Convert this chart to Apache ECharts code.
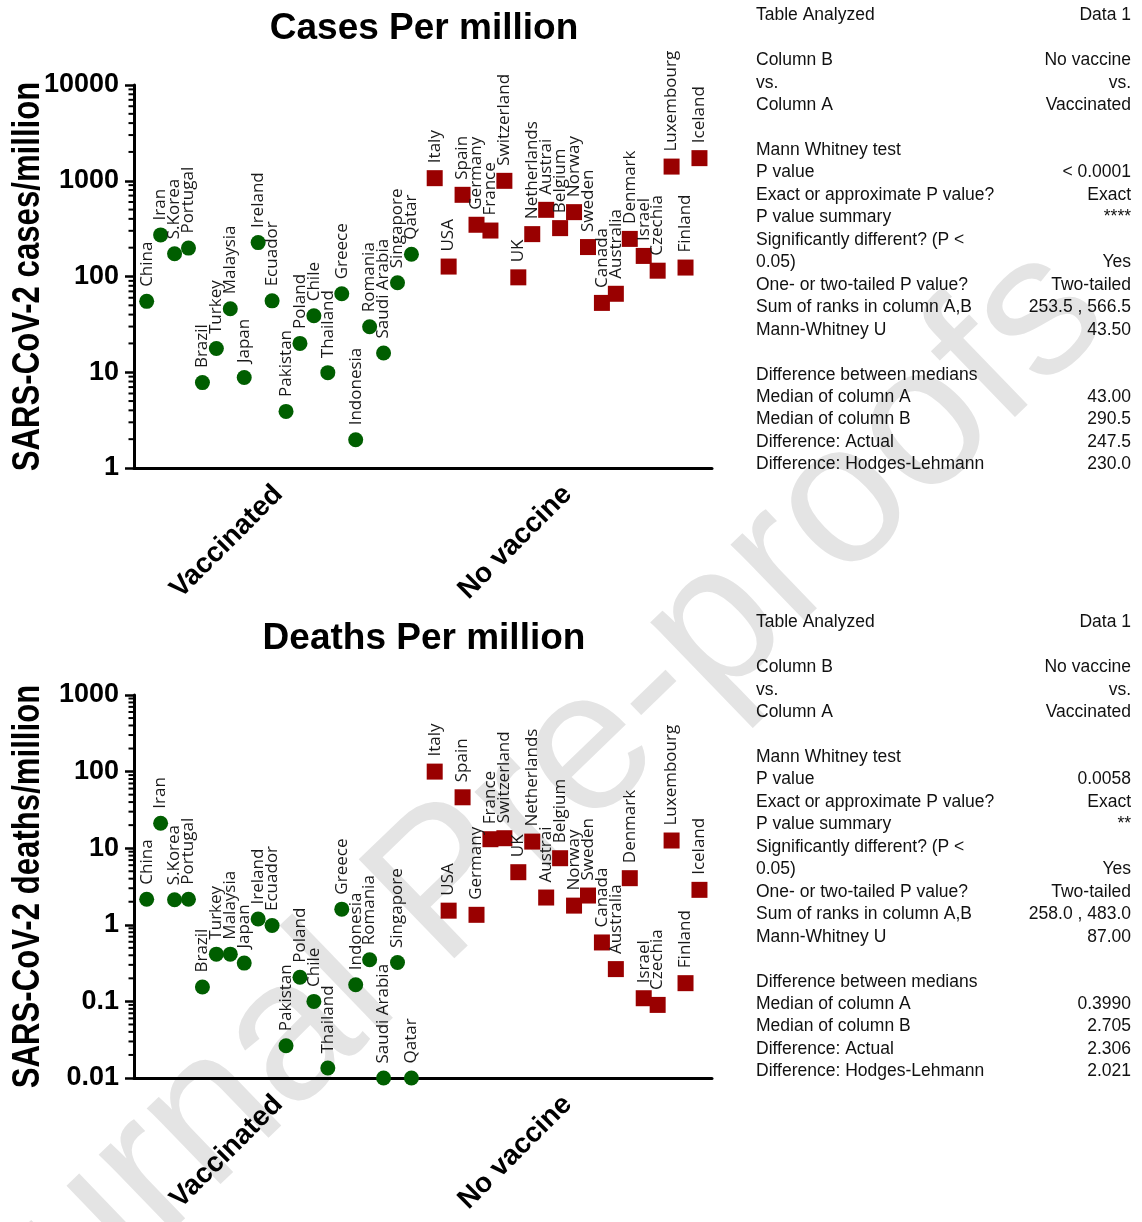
<!DOCTYPE html>
<html>
<head>
<meta charset="utf-8">
<script src="https://cdn.jsdelivr.net/npm/echarts@6/dist/echarts.min.js"></script>
<style>
html,body{margin:0;padding:0;background:#fff;}
#chart{width:1142px;height:1222px;}
</style>
</head>
<body>
<div id="chart"></div>
<script>
// ---------------- DATA ----------------
const vaccCountries = ['China','Iran','S.Korea','Portugal','Brazil','Turkey','Malaysia','Japan','Ireland','Ecuador','Pakistan','Poland','Chile','Thailand','Greece','Indonesia','Romania','Saudi Arabia','Singapore','Qatar'];
const noVaxCountries = ['Italy','USA','Spain','Germany','France','Switzerland','UK','Netherlands','Austrai','Belgium','Norway','Sweden','Canada','Australia','Denmark','Israel','Czechia','Luxembourg','Finland','Iceland'];

const vaccCases  = [55, 272, 173, 198, 7.8, 17.7, 46, 8.8, 226, 55.7, 3.9, 20, 38.9, 9.9, 66, 1.97, 29.9, 15.9, 86, 171];
const noVaxCases = [1064, 127, 713, 347, 302, 998, 98, 277, 497, 320, 470, 203, 53, 66, 247, 164, 115, 1406, 124, 1722];

const vaccDeaths  = [2.16, 21.2, 2.12, 2.16, 0.154, 0.414, 0.414, 0.316, 1.19, 0.98, 0.0264, 0.207, 0.1, 0.0135, 1.6, 0.165, 0.35, 0.01, 0.322, 0.01];
const noVaxDeaths = [100, 1.53, 46.2, 1.35, 13.1, 13.5, 4.86, 12.2, 2.27, 7.4, 1.78, 2.41, 0.588, 0.264, 4.06, 0.11, 0.09, 12.6, 0.173, 2.86];

const groupLabels = ['Vaccinated', 'No vaccine'];
const chartTitles = ['Cases Per million', 'Deaths Per million'];
const yTitles = ['SARS-CoV-2 cases/million', 'SARS-CoV-2 deaths/million'];
const yRanges = [[1, 10000], [0.01, 1000]];

const statRows = [0, 2, 3, 4, 6, 7, 8, 9, 10, 11, 12, 13, 14, 16, 17, 18, 19, 20];
const statLeft = ['Table Analyzed','Column B','vs.','Column A','Mann Whitney test','P value','Exact or approximate P value?','P value summary','Significantly different? (P <','0.05)','One- or two-tailed P value?','Sum of ranks in column A,B','Mann-Whitney U','Difference between medians','Median of column A','Median of column B','Difference: Actual','Difference: Hodges-Lehmann'];
const statRightCases  = ['Data 1','No vaccine','vs.','Vaccinated','','< 0.0001','Exact','****','','Yes','Two-tailed','253.5 , 566.5','43.50','','43.00','290.5','247.5','230.0'];
const statRightDeaths = ['Data 1','No vaccine','vs.','Vaccinated','','0.0058','Exact','**','','Yes','Two-tailed','258.0 , 483.0','87.00','','0.3990','2.705','2.306','2.021'];

// ---------------- LAYOUT ----------------
const GREEN = '#005e00';
const RED = '#990000';
const GAP = 1.67;              // extra spacing between the two groups (in slot units)
const X_MIN = -0.91, X_MAX = 40.57;
const grids = [
  {left: 134, top: 85, width: 578, height: 383},
  {left: 134, top: 695, width: 578, height: 383}
];
const AX = 'Liberation Sans, Arial, Helvetica, sans-serif';
const LBL = '"Open Sans", "Noto Sans", sans-serif';

function fmt(v){ return String(Number(Number(v).toPrecision(6))); }

function minorTicks(range){
  const out = [];
  const lo = Math.round(Math.log10(range[0])), hi = Math.round(Math.log10(range[1]));
  for (let e = lo; e < hi; e++) for (let m = 2; m <= 9; m++) out.push(Number((m * Math.pow(10, e)).toPrecision(6)));
  return out;
}

function pts(names, vals, offset){
  return vals.map((v, i) => ({name: names[i], value: [offset + i, v]}));
}

const xAxes = [], yAxes = [], series = [], titles = [];
const valuesByChart = [[vaccCases, noVaxCases], [vaccDeaths, noVaxDeaths]];
const graphics = [{
  type: 'text', z: -10, silent: true,
  x: 484, y: 853, rotation: 44 * Math.PI / 180,
  style: {text: 'Journal Pre-proofs', fill: '#e4e4e4', font: '200px ' + AX, align: 'center', verticalAlign: 'middle'}
}];

grids.forEach((g, gi) => {
  xAxes.push({
    type: 'value', gridIndex: gi, min: X_MIN, max: X_MAX, position: 'bottom',
    axisLine: {show: true, onZero: false, lineStyle: {color: '#000', width: 3}},
    axisTick: {show: false}, axisLabel: {show: false}, splitLine: {show: false}
  });
  xAxes.push({
    type: 'category', gridIndex: gi, data: groupLabels, position: 'bottom',
    axisLine: {show: false}, axisTick: {show: false}, splitLine: {show: false},
    axisLabel: {interval: 0, rotate: 45, margin: 22, color: '#000', fontSize: 28, fontWeight: 'bold', fontFamily: AX}
  });
  yAxes.push({
    type: 'log', logBase: 10, gridIndex: gi, min: yRanges[gi][0], max: yRanges[gi][1], position: 'left',
    axisLine: {show: true, onZero: false, lineStyle: {color: '#000', width: 3}},
    axisTick: {show: true, length: 9, lineStyle: {color: '#000', width: 2.5}},
    axisLabel: {color: '#000', fontSize: 27, fontWeight: 'bold', fontFamily: AX, margin: 15, formatter: fmt},
    splitLine: {show: false}
  });
  titles.push({
    text: chartTitles[gi], left: 419, top: gi === 0 ? 5 : 615, textAlign: 'center',
    textStyle: {color: '#000', fontSize: 37, fontWeight: 'bold', fontFamily: AX}
  });
  // y axis title (condensed bold, as in the reference)
  graphics.push({
    type: 'text', silent: true, x: 29, y: g.top + g.height / 2, rotation: Math.PI / 2, scaleX: 0.82,
    style: {text: yTitles[gi], fill: '#000', font: 'bold 38px ' + AX, align: 'center', verticalAlign: 'middle'}
  });

  const labelCfg = {
    show: true, formatter: '{b}', position: 'top', distance: 7, rotate: 90,
    align: 'left', verticalAlign: 'middle', offset: [-2, 0],
    color: '#1a1a1a', fontSize: 17, fontFamily: LBL
  };
  series.push({
    type: 'scatter', xAxisIndex: gi * 2, yAxisIndex: gi, clip: false, z: 3,
    symbol: 'circle', symbolSize: 15, itemStyle: {color: GREEN, opacity: 1},
    label: labelCfg, labelLayout: {hideOverlap: false},
    data: pts(vaccCountries, valuesByChart[gi][0], 0)
  });
  series.push({
    type: 'scatter', xAxisIndex: gi * 2, yAxisIndex: gi, clip: false, z: 3,
    symbol: 'rect', symbolSize: 16, itemStyle: {color: RED, opacity: 1},
    label: labelCfg, labelLayout: {hideOverlap: false},
    data: pts(noVaxCountries, valuesByChart[gi][1], vaccCountries.length - 1 + GAP)
  });
  // log-spaced minor ticks on the y axis
  series.push({
    type: 'custom', xAxisIndex: gi * 2, yAxisIndex: gi, clip: false, silent: true, z: 4,
    data: minorTicks(yRanges[gi]).map(v => [X_MIN, v]),
    renderItem: function(params, api){
      const p = api.coord([api.value(0), api.value(1)]);
      return {type: 'line', shape: {x1: p[0] - 5.5, y1: p[1], x2: p[0], y2: p[1]},
              style: {stroke: '#000', lineWidth: 2}};
    }
  });
});

// stats tables as text
[statRightCases, statRightDeaths].forEach((rightCol, bi) => {
  const y0 = bi === 0 ? 15.5 : 622.5;
  statRows.forEach((r, k) => {
    const y = y0 + r * 22.45;
    graphics.push({type: 'text', x: 756, y: y, style: {text: statLeft[k], fill: '#111', font: '17.5px ' + AX, align: 'left', verticalAlign: 'middle'}});
    if (rightCol[k]) graphics.push({type: 'text', x: 1131, y: y, style: {text: rightCol[k], fill: '#111', font: '17.5px ' + AX, align: 'right', verticalAlign: 'middle'}});
  });
});

const chart = echarts.init(document.getElementById('chart'), null, {renderer: 'canvas'});
chart.setOption({
  animation: false,
  backgroundColor: '#fff',
  title: titles,
  grid: grids.map(g => Object.assign({containLabel: false}, g)),
  xAxis: xAxes,
  yAxis: yAxes,
  series: series,
  graphic: graphics
});
</script>
</body>
</html>
